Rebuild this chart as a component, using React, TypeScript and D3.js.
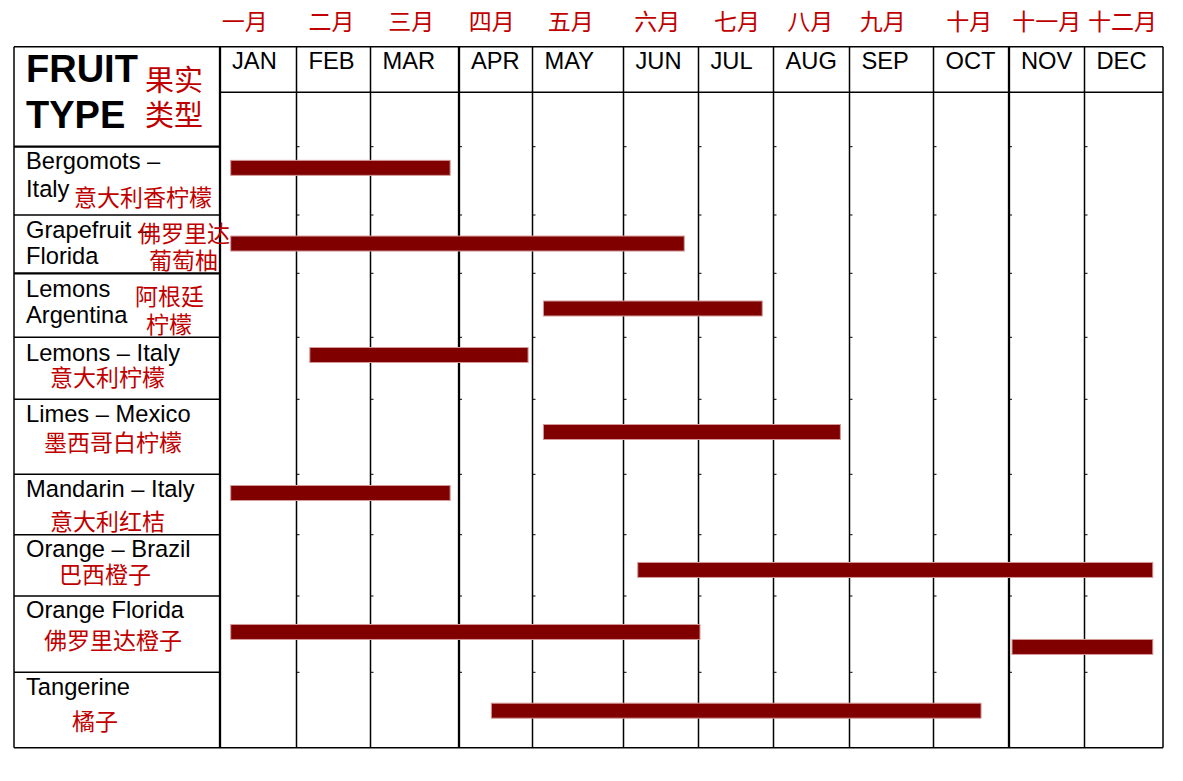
import * as d3 from "d3"

// ---- data ----
const monthsEn = ["JAN", "FEB", "MAR", "APR", "MAY", "JUN", "JUL", "AUG", "SEP", "OCT", "NOV", "DEC"]
const monthsCn = ["一月", "二月", "三月", "四月", "五月", "六月", "七月", "八月", "九月", "十月", "十一月", "十二月"]

const fruitEn = [
  ["Bergomots –", "Italy"],
  ["Grapefruit –", "Florida"],
  ["Lemons", "Argentina"],
  ["Lemons – Italy"],
  ["Limes – Mexico"],
  ["Mandarin – Italy"],
  ["Orange – Brazil"],
  ["Orange Florida"],
  ["Tangerine"],
]
const fruitCn = [
  ["意大利香柠檬"],
  ["佛罗里达", "葡萄柚"],
  ["阿根廷", "柠檬"],
  ["意大利柠檬"],
  ["墨西哥白柠檬"],
  ["意大利红桔"],
  ["巴西橙子"],
  ["佛罗里达橙子"],
  ["橘子"],
]

// harvest periods, in months from Jan 1 (0 = start of JAN, 12 = end of DEC)
const seasonRow = [0, 1, 2, 3, 4, 5, 6, 7, 7, 8]
const seasonStart = [0.14, 0.14, 4.12, 1.18, 4.12, 0.14, 5.19, 0.14, 10.04, 3.44]
const seasonEnd = [2.9, 5.81, 6.85, 3.94, 7.88, 2.9, 11.87, 6.02, 11.87, 9.63]

// ---- layout ----
const W = 1183
const H = 781
const tableLeft = 14
const tableTop = 46.7
const headerBottom = 92.3
const colEdges = [220, 296.5, 370.5, 459, 532.5, 623.5, 698.5, 773.5, 849.5, 933.5, 1009, 1084.5, 1163]
const rowEdges = [146.7, 215, 273.3, 337.3, 399.3, 474.3, 534.7, 596, 672.3, 747.7]
const thickCols = [0, 3, 10]
const thickRows = [0, 2]
const barNudge = [-13, -0.6, 3.2, -13.3, -4.8, -11.5, 4.6, -2.2, 12.8, 0.7]
const barH = 15
const enBase = [[169, 197], [238, 264], [297, 323], [361], [422], [497], [557], [618], [695]]
const cnPos = [
  [[74, 206]],
  [[138, 242], [149, 269]],
  [[135, 305], [146, 333]],
  [[50, 386]],
  [[44, 451]],
  [[50, 530]],
  [[59, 583]],
  [[44, 649]],
  [[72, 730]],
]
const cnMonthDx = [-13.5, -2, -3.5, -4, -7.3, -3.7, 1, -1.2, -8.7, -2, 0, -1.2]

const RED = "#c00000"
const BAR = "#800000"
const EN_FONT = "'Liberation Sans', Arial, sans-serif"
const CN_FONT = "'Noto Sans CJK SC', sans-serif"
const EN_SIZE = 23.7

export default function App() {
  const x = d3.scaleLinear().domain(d3.range(13)).range(colEdges)
  const y = d3.scaleLinear().domain(d3.range(10)).range(rowEdges)
  const tableRight = x(12)
  const tableBottom = y(9)

  return (
    <svg width={W} height={H} style={{ position: "absolute", left: 0, top: 0, background: "#fff" }}>
      <rect width={W} height={H} fill="#fff" />

      {/* chinese month names */}
      {monthsCn.map((m, i) => (
        <text
          key={"cn" + i}
          x={(x(i) + x(i + 1)) / 2 + cnMonthDx[i]}
          y={30}
          textAnchor="middle"
          fontFamily={CN_FONT}
          fontSize={23}
          fill={RED}
        >
          {m}
        </text>
      ))}

      {/* english month names */}
      {monthsEn.map((m, i) => (
        <text key={"en" + i} x={x(i) + 12} y={69} fontFamily={EN_FONT} fontSize={EN_SIZE} fill="#000">
          {m}
        </text>
      ))}

      {/* table frame */}
      <g stroke="#000" fill="none">
        <line x1={tableLeft} x2={tableRight} y1={tableTop} y2={tableTop} strokeWidth={1.5} />
        <line x1={tableLeft} x2={tableRight} y1={tableBottom} y2={tableBottom} strokeWidth={1.5} />
        <line x1={tableLeft} x2={tableLeft} y1={tableTop} y2={tableBottom} strokeWidth={1.5} />
        <line x1={x(0)} x2={tableRight} y1={headerBottom} y2={headerBottom} strokeWidth={1.5} />
        {colEdges.map((_, i) => (
          <line
            key={"c" + i}
            x1={x(i)}
            x2={x(i)}
            y1={tableTop}
            y2={tableBottom}
            strokeWidth={thickCols.includes(i) ? 2.3 : 1.5}
          />
        ))}
        {rowEdges.slice(0, -1).map((_, i) => (
          <line
            key={"r" + i}
            x1={tableLeft}
            x2={x(0)}
            y1={y(i)}
            y2={y(i)}
            strokeWidth={thickRows.includes(i) ? 2.3 : 1.5}
          />
        ))}
        {/* small ticks where the row borders meet the month lines */}
        {d3.range(1, 12).map((c) =>
          d3.range(0, 9).map((r) => (
            <line key={`t${c}-${r}`} x1={x(c)} x2={x(c) + 3} y1={y(r)} y2={y(r)} strokeWidth={1} />
          ))
        )}
      </g>

      {/* harvest bars */}
      {seasonRow.map((r, i) => {
        const cy = (y(r) + y(r + 1)) / 2 + barNudge[i]
        return (
          <rect
            key={"b" + i}
            x={x(seasonStart[i])}
            y={cy - barH / 2}
            width={x(seasonEnd[i]) - x(seasonStart[i])}
            height={barH}
            fill={BAR}
            stroke="#d49a9a"
            strokeWidth={1}
          />
        )
      })}

      {/* header cell */}
      <text x={26} y={82} fontFamily={EN_FONT} fontWeight="bold" fontSize={38} fill="#000">
        FRUIT
      </text>
      <text x={26} y={128} fontFamily={EN_FONT} fontWeight="bold" fontSize={38} fill="#000">
        TYPE
      </text>
      <text x={145} y={91} fontFamily={CN_FONT} fontSize={29} fill={RED}>
        果实
      </text>
      <text x={145} y={126} fontFamily={CN_FONT} fontSize={29} fill={RED}>
        类型
      </text>

      {/* fruit labels */}
      {fruitEn.map((lines, r) =>
        lines.map((t, j) => (
          <text key={`fe${r}-${j}`} x={26} y={enBase[r][j]} fontFamily={EN_FONT} fontSize={EN_SIZE} fill="#000">
            {t}
          </text>
        ))
      )}
      {fruitCn.map((lines, r) =>
        lines.map((t, j) => (
          <text
            key={`fc${r}-${j}`}
            x={cnPos[r][j][0]}
            y={cnPos[r][j][1]}
            fontFamily={CN_FONT}
            fontSize={23}
            fill={RED}
          >
            {t}
          </text>
        ))
      )}
    </svg>
  )
}
